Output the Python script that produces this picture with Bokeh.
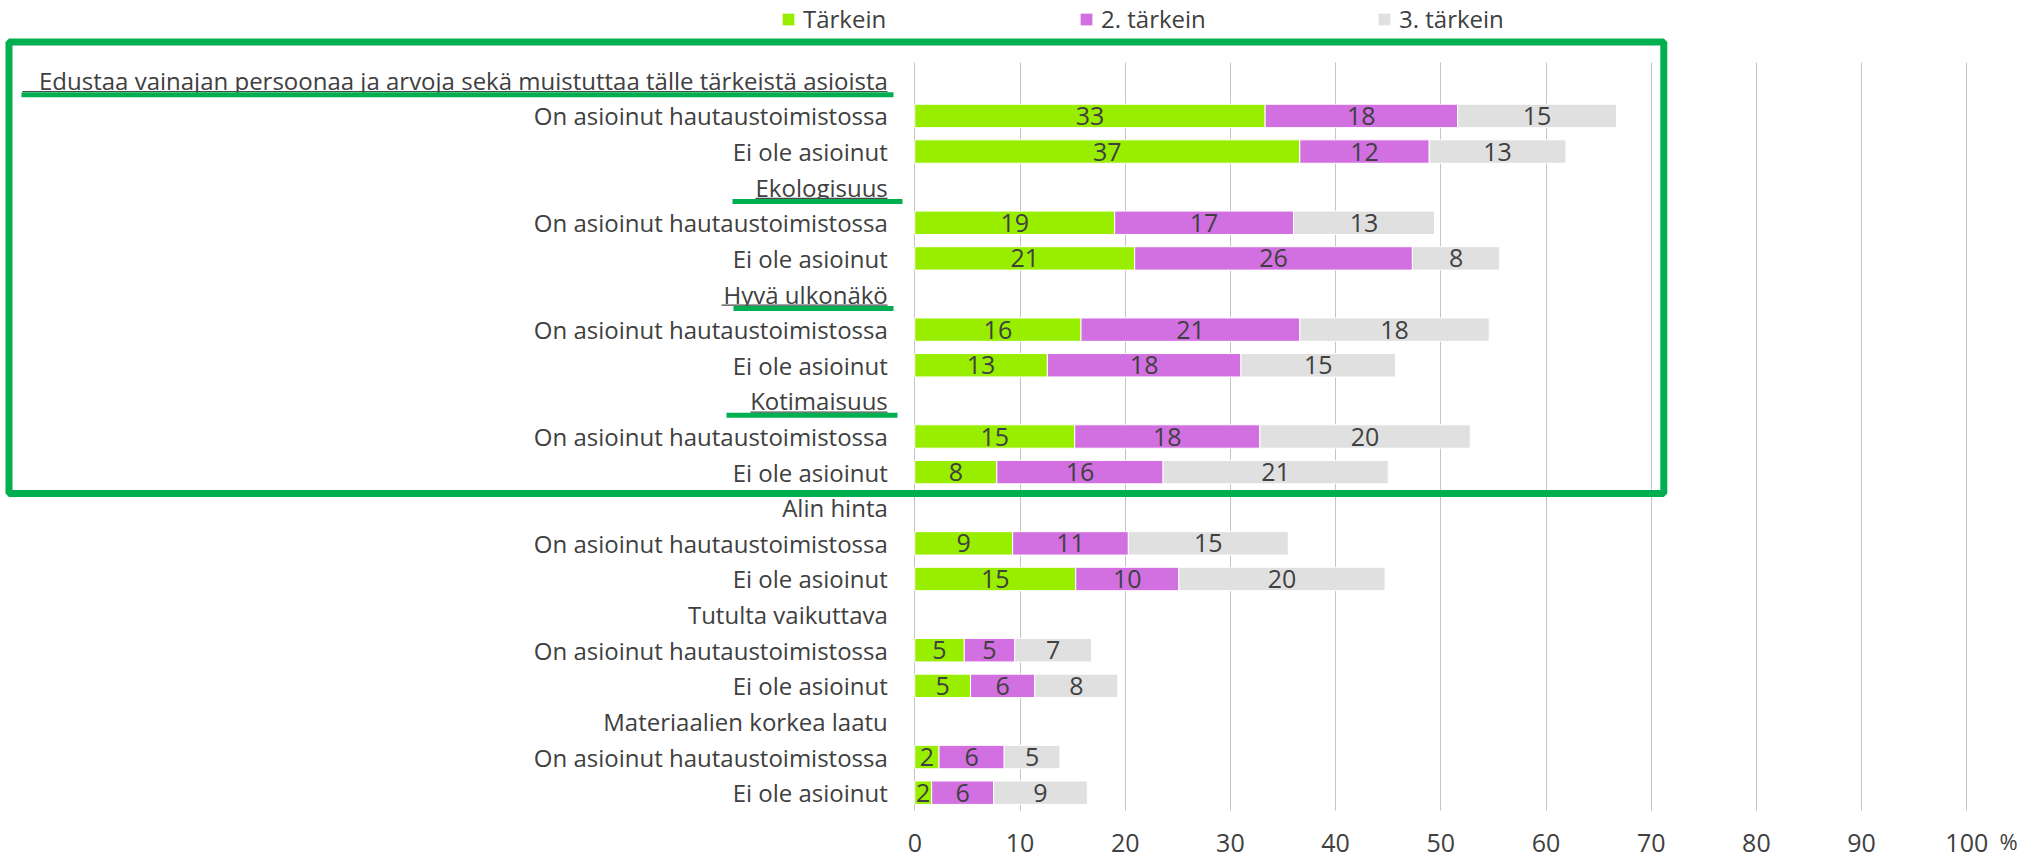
from bokeh.plotting import figure
from bokeh.models import (ColumnDataSource, Range1d, FixedTicker, Legend, LegendItem,
                          BoxAnnotation, Label)
from bokeh.embed import file_html
from bokeh.resources import INLINE
from bokeh.core.properties import value

# ---------------- data ----------------
groups = [
    "Edustaa vainajan persoonaa ja arvoja sekä muistuttaa tälle tärkeistä asioista",
    "Ekologisuus",
    "Hyvä ulkonäkö",
    "Kotimaisuus",
    "Alin hinta",
    "Tutulta vaikuttava",
    "Materiaalien korkea laatu",
]
subgroups = ["On asioinut hautaustoimistossa", "Ei ole asioinut"]
series_names = ["Tärkein", "2. tärkein", "3. tärkein"]

tarkein_on = [33.3, 19.0, 15.8, 15.2, 9.3, 4.7, 2.3]
tarkein_ei = [36.6, 20.9, 12.6, 7.8, 15.3, 5.3, 1.6]
toinen_on = [18.3, 17.0, 20.8, 17.6, 11.0, 4.8, 6.2]
toinen_ei = [12.3, 26.4, 18.4, 15.8, 9.8, 6.1, 5.9]
kolmas_on = [15.1, 13.4, 18.0, 20.0, 15.2, 7.3, 5.3]
kolmas_ei = [13.0, 8.3, 14.7, 21.4, 19.6, 7.9, 8.9]

x_ticks = [0, 10, 20, 30, 40, 50, 60, 70, 80, 90, 100]
highlighted_groups = [0, 1, 2, 3]

# ---------------- styling ----------------
FONT = "Open Sans"
TEXT = "#404040"
COLORS = ["#99EE00", "#D270E2", "#E0E0E0"]
BOX_GREEN = "#00B050"
GRID = "#C4C4C4"

W, H = 2039, 859
# pixel positions of the value area (x = 0..100, rows) inside the canvas
AX_L, AX_R, AX_T, AX_B = 914.3, 1966.3, 62.0, 810.0
N_ROWS = 3 * len(groups)
PX_PER_X = (AX_R - AX_L) / 100.0
PX_PER_ROW = (AX_B - AX_T) / N_ROWS


def dx(px):
    return (px - AX_L) / PX_PER_X


def dy(py):
    return -0.5 + (py - AX_T) / PX_PER_ROW


# ---------------- assemble rows ----------------
tick_labels = {}
for gi, g in enumerate(groups):
    tick_labels[3 * gi] = g
    for si, s in enumerate(subgroups):
        tick_labels[3 * gi + 1 + si] = s

row_y = []
series_vals = [[], [], []]
pairs = [(tarkein_on, tarkein_ei), (toinen_on, toinen_ei), (kolmas_on, kolmas_ei)]
for gi in range(len(groups)):
    row_y += [3 * gi + 1, 3 * gi + 2]
    for k, (on, ei) in enumerate(pairs):
        series_vals[k] += [on[gi], ei[gi]]

p = figure(width=W, height=H, output_backend="svg", toolbar_location=None, title=None,
           x_range=Range1d(dx(0), dx(W)), y_range=Range1d(dy(H), dy(0)),
           min_border_left=0, min_border_right=0, min_border_top=0, min_border_bottom=0)
p.outline_line_color = None
p.background_fill_color = "white"
p.border_fill_color = "white"

renderers = []
left = [0.0] * len(row_y)
for k in range(3):
    vals = series_vals[k]
    right = [l + v for l, v in zip(left, vals)]
    src = ColumnDataSource(dict(y=row_y, left=left, right=right,
                                mid=[(l + r) / 2 for l, r in zip(left, right)],
                                lab=[f"{v:.0f}" for v in vals]))
    r = p.hbar(y="y", left="left", right="right", height=0.657, source=src,
               fill_color=COLORS[k], line_color="white", line_width=1)
    renderers.append(r)
    p.text(x="mid", y="y", text="lab", source=src, text_align="center",
           text_baseline="middle", text_font=value(FONT), text_font_size="25px",
           text_color=TEXT)
    left = right

# axes, placed at the edges of the value area
p.xaxis.fixed_location = N_ROWS - 0.5
p.xaxis.ticker = FixedTicker(ticks=x_ticks)
p.xaxis.axis_line_color = None
p.xaxis.major_tick_line_color = None
p.xaxis.minor_tick_line_color = None
p.xaxis.major_tick_out = 0
p.xaxis.major_tick_in = 0
p.xaxis.major_label_standoff = 23
p.xaxis.major_label_text_font = FONT
p.xaxis.major_label_text_font_size = "25px"
p.xaxis.major_label_text_color = TEXT

p.yaxis.fixed_location = 0
p.yaxis.ticker = FixedTicker(ticks=list(range(N_ROWS)))
p.yaxis.major_label_overrides = tick_labels
p.yaxis.axis_line_color = None
p.yaxis.major_tick_line_color = None
p.yaxis.minor_tick_line_color = None
p.yaxis.major_tick_out = 0
p.yaxis.major_tick_in = 0
p.yaxis.major_label_standoff = 27
p.yaxis.major_label_text_font = FONT
p.yaxis.major_label_text_font_size = "24px"
p.yaxis.major_label_text_color = TEXT

p.ygrid.grid_line_color = None
p.xgrid.ticker = FixedTicker(ticks=x_ticks)
p.xgrid.grid_line_color = GRID
p.xgrid.grid_line_width = 1
try:
    p.xgrid.cross_bounds = (-0.5, N_ROWS - 0.5)
except AttributeError:
    p.xgrid.grid_line_color = None
    p.segment(x0=x_ticks, x1=x_ticks, y0=[-0.5] * len(x_ticks), y1=[N_ROWS - 0.5] * len(x_ticks),
              line_color=GRID, line_width=1, level="underlay")

# legend
LEG_LABEL_H = 33
legend = Legend(items=[LegendItem(label=n, renderers=[r]) for n, r in zip(series_names, renderers)],
                orientation="horizontal", location=(780, H - 2.3 - LEG_LABEL_H),
                padding=0, margin=0, spacing=0, border_line_color=None,
                background_fill_alpha=0, glyph_width=16, glyph_height=16,
                label_standoff=7, label_width=275, label_height=LEG_LABEL_H,
                label_text_font=FONT, label_text_font_size="24px", label_text_color=TEXT)
p.add_layout(legend, "center")

# highlight frame around the first four groups
p.add_layout(BoxAnnotation(left=dx(8.5), right=dx(1663.3), top=dy(41.5), bottom=dy(493),
                           fill_alpha=0, line_color=BOX_GREEN, line_alpha=1, line_width=7))

# underlines of highlighted group headings
text_starts = [22, 755, 721, 750]
green_spans = [(21, 893), (732, 902), (733, 893), (726, 897)]
for gi, xs, (g0, g1) in zip(highlighted_groups, text_starts, green_spans):
    yc = 3 * gi
    p.add_layout(BoxAnnotation(left=dx(xs), right=dx(887), top=yc + 10.6 / PX_PER_ROW,
                               bottom=yc + 11.8 / PX_PER_ROW, fill_color="#4A4A4A",
                               fill_alpha=1, line_alpha=0))
    p.add_layout(BoxAnnotation(left=dx(g0), right=dx(g1), top=yc + 11.9 / PX_PER_ROW,
                               bottom=yc + 16.9 / PX_PER_ROW, fill_color=BOX_GREEN,
                               fill_alpha=1, line_alpha=0))

p.add_layout(Label(x=dx(1999), y=dy(840), text="%", text_font=FONT, text_font_size="22px",
                   text_color=TEXT, text_baseline="middle", text_align="left"))

open("out.html", "w").write(file_html(p, INLINE))
